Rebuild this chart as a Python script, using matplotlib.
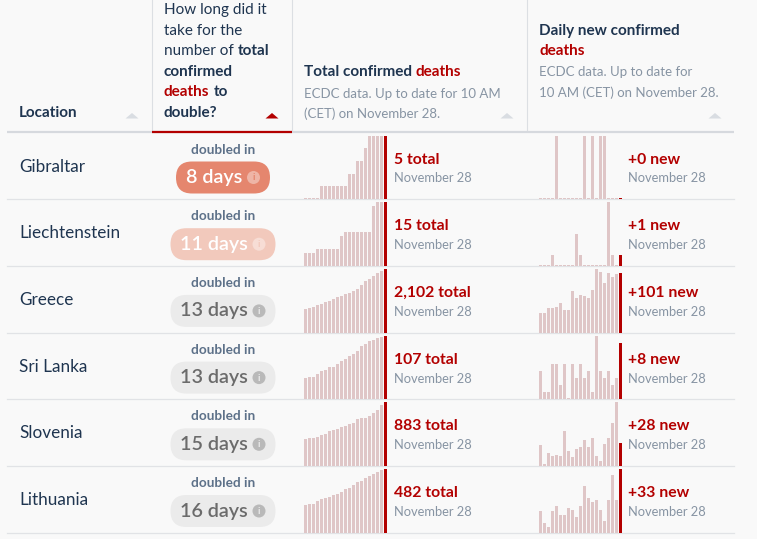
import numpy as np
import matplotlib
matplotlib.use("Agg")
import matplotlib.pyplot as plt
from matplotlib.patches import FancyBboxPatch, Circle, Polygon

plt.rcParams['font.family'] = ['Lato', 'DejaVu Sans']

locations = ["Gibraltar", "Liechtenstein", "Greece", "Sri Lanka", "Slovenia", "Lithuania"]
doubling_days = [8, 11, 13, 13, 15, 16]
total_deaths = [5, 15, 2102, 107, 883, 482]
new_deaths = [0, 1, 101, 8, 28, 33]
date_label = "November 28"

# last 21 days, the last value is the highlighted day
total_series = [
    [0, 0, 0, 0, 1, 1, 1, 1, 1, 1, 1, 2, 2, 3, 3, 4, 5, 5, 5, 5, 5],
    [3, 3, 3, 4, 4, 4, 4, 4, 4, 7, 8, 8, 8, 8, 8, 8, 8, 14, 15, 15, 15],
    [773, 818, 852, 920, 954, 1000, 1045, 1102, 1159, 1216, 1273, 1318, 1375,
     1454, 1579, 1693, 1773, 1875, 1966, 2045, 2102],
    [35, 37, 37, 43, 48, 50, 55, 55, 59, 64, 68, 72, 76, 81, 89, 93, 98, 100,
     103, 105, 107],
    [370, 384, 393, 407, 425, 439, 481, 495, 513, 536, 555, 583, 601, 647, 661,
     661, 693, 730, 772, 846, 883],
    [211, 219, 219, 238, 252, 263, 273, 284, 292, 306, 328, 338, 360, 382, 393,
     414, 428, 441, 463, 474, 482],
]
daily_series = [
    [0, 0, 0, 0, 1, 0, 0, 0, 0, 0, 0, 1, 0, 1, 0, 1, 1, 0, 0, 0, 0],
    [0, 0, 0, 1, 0, 0, 0, 0, 0, 3, 1, 0, 0, 0, 0, 0, 0, 6, 1, 0, 1],
    [33, 34, 42, 42, 44, 50, 38, 38, 71, 59, 64, 62, 59, 72, 108, 103, 84, 101,
     94, 99, 101],
    [4, 1, 1, 5, 5, 2, 5, 0, 5, 3, 5, 3, 4, 1, 9, 4, 3, 4, 2, 3, 8],
    [26, 3, 16, 12, 14, 13, 44, 19, 11, 21, 24, 32, 23, 35, 13, 6, 27, 35, 53,
     79, 28],
    [11, 5, 3, 11, 14, 9, 9, 13, 12, 8, 14, 24, 18, 16, 17, 12, 6, 17, 30, 17,
     33],
]

# styles
W, H = 757, 539
BG = '#f9f9f9'
RED = '#b30000'
NAVY = '#1f3550'
SUB = '#8794a3'
BAR = '#dfc6c7'
LINE = '#e1e3e6'
pill_fill = ['#e5866e', '#f2c9bc', '#ebebeb', '#ebebeb', '#ebebeb', '#ebebeb']
pill_text = ['white', 'white', '#6b6b6b', '#6b6b6b', '#6b6b6b', '#6b6b6b']
icon_fill = ['#eeb5a6', '#f7ddd5', '#b9b9b9', '#b9b9b9', '#b9b9b9', '#b9b9b9']
icon_text = ['#e5866e', '#f2c9bc', '#ebebeb', '#ebebeb', '#ebebeb', '#ebebeb']

fig = plt.figure(figsize=(W / 100, H / 100), dpi=100, facecolor=BG)
ax = fig.add_axes([0, 0, 1, 1])
ax.set_xlim(0, W)
ax.set_ylim(H, 0)
ax.axis('off')
ax.set_facecolor(BG)
renderer = fig.canvas.get_renderer()


def text_w(s, size, weight):
    t = ax.text(0, 0, s, fontsize=size, fontweight=weight)
    w = t.get_window_extent(renderer).width
    t.remove()
    return w


def rich(x, y, parts, size=11):
    space = text_w("a a", size, 'normal') - text_w("aa", size, 'normal')
    for s, bold, red in parts:
        if s == " ":
            x += space
            continue
        t = ax.text(x, y, s, fontsize=size, fontweight='bold' if bold else 'normal',
                    color=RED if red else NAVY, va='center', ha='left')
        x += t.get_window_extent(renderer).width


def tri(cx, cy, color):
    ax.add_patch(Polygon([[cx - 6.5, cy + 2.5], [cx + 6.5, cy + 2.5], [cx, cy - 3]],
                         closed=True, color=color, lw=0))


# ---- header ----
ax.text(19, 113, "Location", fontsize=11, fontweight='bold', color=NAVY, va='center')
tri(132, 116, '#d9dde2')

hx = 164
rich(hx, 10, [("How long did it", False, False)])
rich(hx, 31, [("take for the", False, False)])
rich(hx, 51, [("number of", False, False), (" ", 0, 0), ("total", True, False)])
rich(hx, 72, [("confirmed", True, False)])
rich(hx, 92, [("deaths", True, True), (" ", 0, 0), ("to", True, False)])
rich(hx, 113, [("double?", True, False)])
tri(272, 116, RED)

rich(304, 72, [("Total confirmed", True, False), (" ", 0, 0), ("deaths", True, True)])
ax.text(304, 94, "ECDC data. Up to date for 10 AM", fontsize=9.5, color=SUB, va='center')
ax.text(304, 114, "(CET) on November 28.", fontsize=9.5, color=SUB, va='center')
tri(507, 116, '#d9dde2')

rich(539, 31, [("Daily new confirmed", True, False)])
rich(539, 51, [("deaths", True, True)])
ax.text(539, 72, "ECDC data. Up to date for", fontsize=9.5, color=SUB, va='center')
ax.text(539, 93, "10 AM (CET) on November 28.", fontsize=9.5, color=SUB, va='center')
tri(715, 116, '#d9dde2')

for vx in [152, 292, 527]:
    ax.plot([vx, vx], [0, 130], color='#dcdfe3', lw=0.8)
ax.plot([7, 734], [131.5, 131.5], color='#d6d9de', lw=1.6, solid_capstyle='butt')
ax.plot([152, 292], [131.5, 131.5], color=RED, lw=1.6, solid_capstyle='butt')

# ---- rows ----
top0, rh = 132.5, 66.7
for i, loc in enumerate(locations):
    top = top0 + i * rh
    bot = top + rh
    ax.plot([7, 734], [bot, bot], color=LINE, lw=0.9)

    ax.text(19, top + 34, loc, fontsize=12.3, color=NAVY, va='center')

    ax.text(223, top + 17, "doubled in", fontsize=9.8, fontweight='bold',
            color='#5d7189', ha='center', va='center')
    pw = 94 if doubling_days[i] < 10 else 105
    pl = 223 - pw / 2
    ax.add_patch(FancyBboxPatch((pl, top + 29), pw, 32,
                                boxstyle="round,pad=0,rounding_size=16",
                                fc=pill_fill[i], ec='none'))
    icx = pl + pw - 16.5
    icy = top + 45
    ax.add_patch(Circle((icx, icy), 6.5, fc=icon_fill[i], ec='none'))
    ax.text(icx, icy + 0.5, "i", fontsize=7, fontweight='bold', color=icon_text[i],
            ha='center', va='center')
    ax.text(icx - 11.5, icy, f"{doubling_days[i]} days", fontsize=14.2,
            fontweight='semibold', color=pill_text[i], ha='right', va='center')

    ax.text(394, top + 27, f"{total_deaths[i]:,} total", fontsize=11.3,
            fontweight='bold', color=RED, va='center')
    ax.text(394, top + 46, date_label, fontsize=9.3, color=SUB, va='center')
    ax.text(628, top + 27, f"+{new_deaths[i]} new", fontsize=11.3,
            fontweight='bold', color=RED, va='center')
    ax.text(628, top + 46, date_label, fontsize=9.3, color=SUB, va='center')

    # sparklines
    for x0, series in [(304, total_series[i]), (539, daily_series[i])]:
        vals = np.array(series, dtype=float)
        ymax = vals.max()
        sax = fig.add_axes([x0 / W, 1 - bot / H, 84 / W, (rh - 3) / H])
        sax.set_xlim(0, 21)
        sax.set_ylim(0, ymax)
        sax.axis('off')
        sax.patch.set_alpha(0)
        shown = np.maximum(vals, ymax * 0.016)
        idx = np.arange(len(vals))
        colors = [BAR] * (len(vals) - 1) + [RED]
        sax.bar(idx, shown, width=0.75, align='edge', color=colors, lw=0)

fig.savefig("out.png", dpi=100, facecolor=BG)
